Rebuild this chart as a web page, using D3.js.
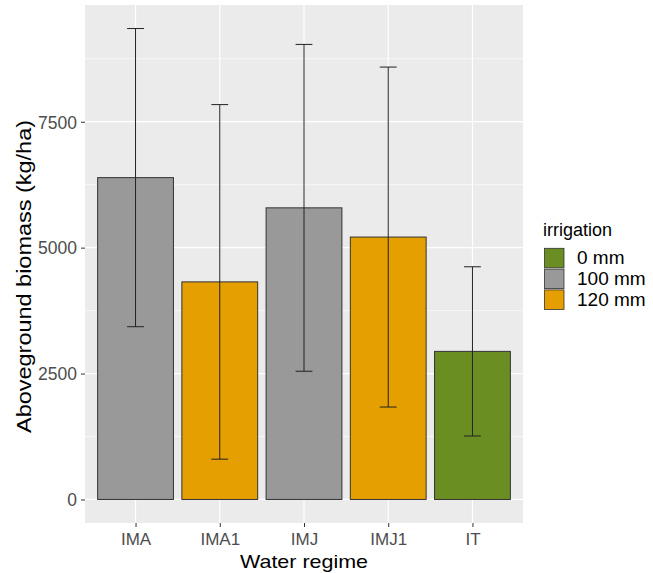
<!DOCTYPE html>
<html><head><meta charset="utf-8">
<script src="https://cdn.jsdelivr.net/npm/d3@7"></script>
<style>body{margin:0;background:#fff;} text{font-family:"Liberation Sans",Arial,sans-serif;}</style>
</head><body><svg id="c" width="653" height="573"></svg>
<script>
const categories = ["IMA","IMA1","IMJ","IMJ1","IT"];
const meanValues = [6390, 4320, 5790, 5210, 2940];
const sdValues = [2960, 3520, 3245, 3375, 1680];
const groups = ["100 mm","120 mm","100 mm","120 mm","0 mm"];
const legendLevels = ["0 mm","100 mm","120 mm"];
const legendColors = ["#6B8E23","#999999","#E69F00"];
const yTicks = [0, 2500, 5000, 7500];
const yMinor = [1250, 3750, 6250, 8750];

const svg = d3.select("#c");
const L = 85, R = 523, T = 5, B = 523;
const ymax = d3.max(meanValues.map((m,i)=>m+sdValues[i]));
const pad = ymax*0.05;
const y = d3.scaleLinear().domain([-pad, ymax+pad]).range([B, T]);
const step = (R-L)/(categories.length + 0.2);
const xc = d3.scalePoint().domain(categories).range([L+0.6*step, R-0.6*step]);
const bw = step*0.9;
const color = d3.scaleOrdinal().domain(legendLevels).range(legendColors);

svg.append("rect").attr("x",L).attr("y",T).attr("width",R-L).attr("height",B-T).attr("fill","#EBEBEB");
const g = svg.append("g");
yMinor.forEach(v=>g.append("line").attr("x1",L).attr("x2",R).attr("y1",y(v)).attr("y2",y(v)).attr("stroke","#fff").attr("stroke-width",0.6));
yTicks.forEach(v=>g.append("line").attr("x1",L).attr("x2",R).attr("y1",y(v)).attr("y2",y(v)).attr("stroke","#fff").attr("stroke-width",1.2));
categories.forEach(c=>g.append("line").attr("y1",T).attr("y2",B).attr("x1",xc(c)).attr("x2",xc(c)).attr("stroke","#fff").attr("stroke-width",1.2));

svg.append("g").selectAll("rect").data(categories).join("rect")
  .attr("x",c=>xc(c)-bw/2).attr("width",bw)
  .attr("y",(c,i)=>y(meanValues[i])).attr("height",(c,i)=>y(0)-y(meanValues[i]))
  .attr("fill",(c,i)=>color(groups[i])).attr("stroke","#333").attr("stroke-width",1);

const cap = step*0.2/2;
const eb = svg.append("g").attr("stroke","#222").attr("stroke-width",1);
categories.forEach((c,i)=>{
  const cx = xc(c), hi = y(meanValues[i]+sdValues[i]), lo = y(meanValues[i]-sdValues[i]);
  eb.append("line").attr("x1",cx).attr("x2",cx).attr("y1",hi).attr("y2",lo);
  eb.append("line").attr("x1",cx-cap).attr("x2",cx+cap).attr("y1",hi).attr("y2",hi);
  eb.append("line").attr("x1",cx-cap).attr("x2",cx+cap).attr("y1",lo).attr("y2",lo);
});

// axes
const ya = svg.append("g").attr("transform",`translate(${L},0)`)
  .call(d3.axisLeft(y).tickValues(yTicks).tickSize(4).tickPadding(4).tickFormat(d3.format("d")));
ya.select(".domain").remove();
ya.selectAll("line").attr("stroke","#333");
ya.selectAll("text").attr("fill","#4D4D4D").style("font-size","17.5px").attr("dy","0.36em");
const xa = svg.append("g").attr("transform",`translate(0,${B})`)
  .call(d3.axisBottom(xc).tickSize(4).tickPadding(4));
xa.select(".domain").remove();
xa.selectAll("line").attr("stroke","#333");
xa.selectAll("text").attr("fill","#4D4D4D").style("font-size","17px").attr("y",22).attr("dy",0);

svg.append("text").attr("x",304).attr("y",568).attr("text-anchor","middle")
  .style("font-size","19px").attr("textLength",128).attr("lengthAdjust","spacingAndGlyphs")
  .attr("fill","#000").text("Water regime");
svg.append("text").attr("transform",`translate(31,276.5) rotate(-90)`).attr("text-anchor","middle")
  .style("font-size","20px").attr("textLength",313).attr("lengthAdjust","spacingAndGlyphs")
  .attr("fill","#000").text("Aboveground biomass (kg/ha)");

// legend
const lg = svg.append("g");
lg.append("text").attr("x",543).attr("y",236).style("font-size","18px").text("irrigation");
legendLevels.forEach((lv,i)=>{
  const yy = 248.3 + i*20.8;
  lg.append("rect").attr("x",544.5).attr("y",yy).attr("width",19.5).attr("height",19.5)
    .attr("fill",legendColors[i]).attr("stroke","#333").attr("stroke-width",0.8);
  lg.append("text").attr("x",577).attr("y",yy+16).style("font-size","19px").text(lv);
});
</script></body></html>
